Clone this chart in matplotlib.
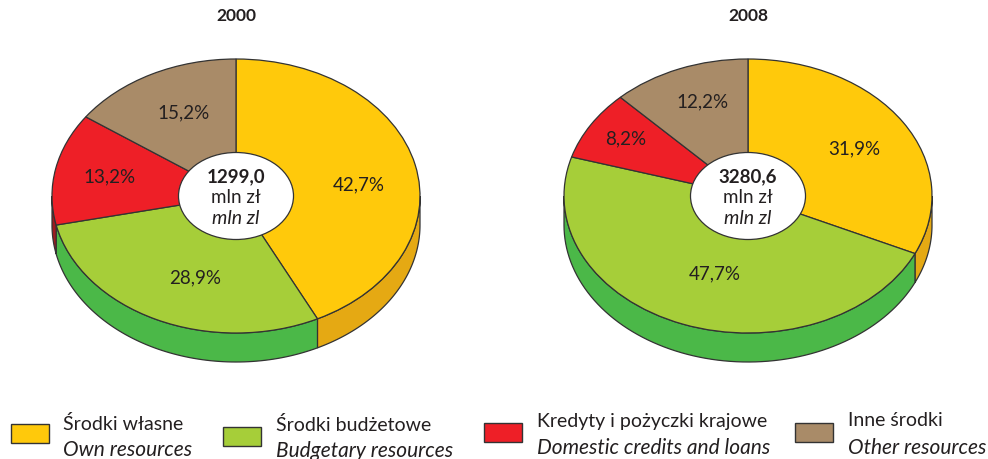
import numpy as np
import matplotlib
matplotlib.use('Agg')
import matplotlib.pyplot as plt
from matplotlib.patches import Ellipse, Polygon, Rectangle

plt.rcParams['font.family'] = ['Lato', 'DejaVu Sans']

years = ['2000', '2008']
shares_2000 = [42.7, 28.9, 13.2, 15.2]
shares_2008 = [31.9, 47.7, 8.2, 12.2]
totals = ['1299,0', '3280,6']
names_pl = ['Środki własne', 'Środki budżetowe', 'Kredyty i pożyczki krajowe', 'Inne środki']
names_en = ['Own resources', 'Budgetary resources', 'Domestic credits and loans', 'Other resources']
top_colors = ['#FFC90B', '#A6CE39', '#EE1F27', '#A98B68']
side_colors = ['#E5A913', '#4BB848', '#9E1B20', '#8A7050']

# rozmiar w pikselach
W, H = 988, 460
RX, RY, DEPTH = 184, 137, 29
EDGE = '#333333'
centers = [(236, 197), (748, 197)]
label_pos_2000 = [(359, 185), (195, 278), (109, 177), (184, 113)]
label_pos_2008 = [(854, 149), (715, 274), (626, 139), (702, 102)]
legend_boxes = [(11, 425), (223, 428), (484, 424), (795, 424)]
legend_text = [(63, 424, 450), (276, 425, 451), (537, 421, 448), (848, 421, 448)]


def draw_wall(ax, shares, depth):
    # tylko przednia czesc sciany (90-270 stopni od gory, zgodnie z zegarem)
    edges = np.cumsum([0] + shares) / sum(shares) * 360
    for i in range(len(shares)):
        a = max(edges[i], 90)
        b = min(edges[i + 1], 270)
        if a >= b:
            continue
        t = np.radians(np.linspace(a, b, 80))
        x = np.sin(t)
        y = np.cos(t)
        pts = np.column_stack([np.r_[x, x[::-1]], np.r_[y, y[::-1] - depth]])
        ax.add_patch(Polygon(pts, closed=True, fc=side_colors[i], ec=EDGE, lw=0.9, zorder=1))


def draw_pie(cx, cy, shares, total, year, label_pos):
    d = DEPTH / RY
    # osie dobrane tak, by promien = RX, RY pikseli
    ax = fig.add_axes([(cx - RX - 4) / W, 1 - (cy + RY + DEPTH + 4) / H,
                       (2 * RX + 8) / W, (2 * RY + DEPTH + 8) / H])
    draw_wall(ax, shares, d)
    ax.pie(shares, colors=top_colors, startangle=90, counterclock=False, radius=1,
           wedgeprops={'edgecolor': EDGE, 'linewidth': 0.9, 'zorder': 2})
    ax.set_aspect('auto')
    ax.set_xlim(-1 - 4 / RX, 1 + 4 / RX)
    ax.set_ylim(-1 - d - 4 / RY, 1 + 4 / RY)
    ax.add_patch(Ellipse((0, 0), 115 / RX, 87 / RY, fc='white', ec=EDGE, lw=0.9, zorder=3))
    ax.axis('off')

    for s, (px, py) in zip(shares, label_pos):
        fig.text(px / W, 1 - py / H, f'{s:.1f}%'.replace('.', ','), fontsize=13.5,
                 color='#231F20', ha='center', va='center')
    fig.text(cx / W, 1 - 16 / H, year, fontsize=12.5, fontweight='bold', color='#231F20',
             ha='center', va='center')
    fig.text(cx / W, 1 - 177 / H, total, fontsize=13.5, fontweight='bold', color='#231F20',
             ha='center', va='center', zorder=5)
    fig.text(cx / W, 1 - 198 / H, 'mln zł', fontsize=13.5, color='#231F20',
             ha='center', va='center', zorder=5)
    fig.text(cx / W, 1 - 219 / H, 'mln zl', fontsize=14, style='italic', color='#231F20',
             ha='center', va='center', zorder=5)


fig = plt.figure(figsize=(W / 100, H / 100), dpi=100)

draw_pie(centers[0][0], centers[0][1], shares_2000, totals[0], years[0], label_pos_2000)
draw_pie(centers[1][0], centers[1][1], shares_2008, totals[1], years[1], label_pos_2008)

# legenda
for i in range(4):
    bx, by = legend_boxes[i]
    fig.add_artist(Rectangle((bx / W, 1 - (by + 19) / H), 38 / W, 19 / H, transform=fig.transFigure,
                             fc=top_colors[i], ec=EDGE, lw=1.0))
    tx, y1, y2 = legend_text[i]
    fig.text(tx / W, 1 - y1 / H, names_pl[i], fontsize=14, color='#231F20', ha='left', va='center')
    fig.text(tx / W, 1 - y2 / H, names_en[i], fontsize=15, style='italic', color='#231F20',
             ha='left', va='center')

fig.savefig('out.png', dpi=100)
